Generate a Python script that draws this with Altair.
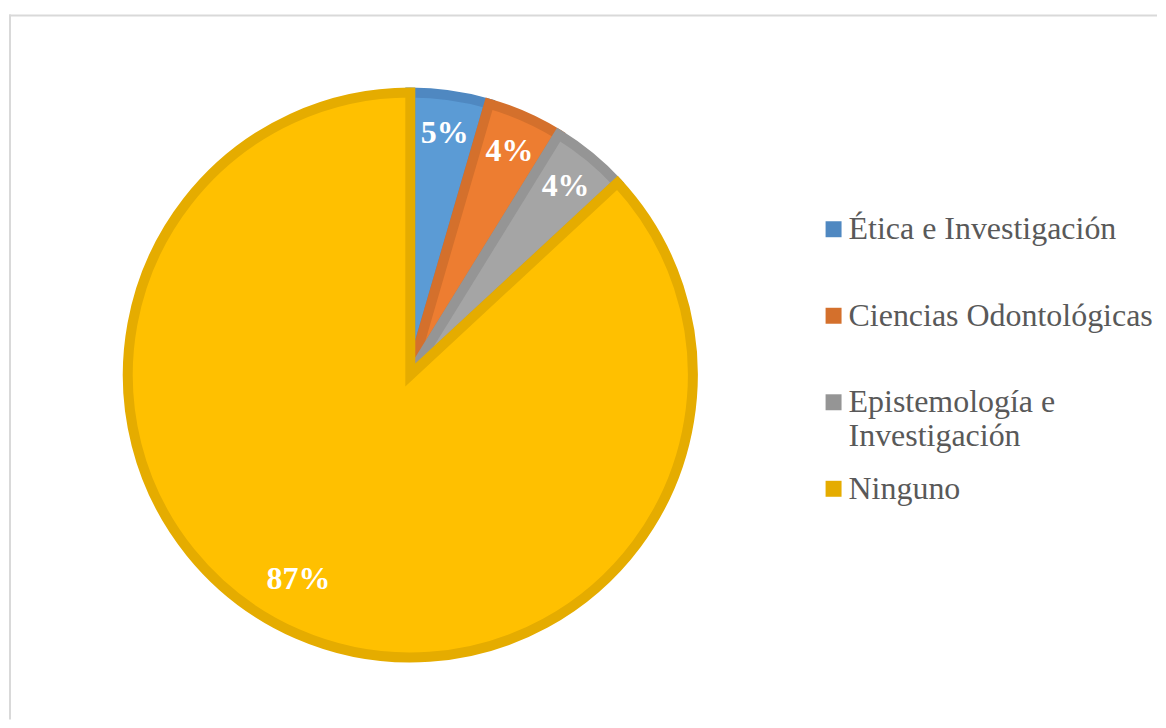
import altair as alt
import pandas as pd

categories = ["Ética e Investigación", "Ciencias Odontológicas",
              "Epistemología e Investigación", "Ninguno"]
legend_labels = ["Ética e Investigación", "Ciencias Odontológicas",
                 "Epistemología e\nInvestigación", "Ninguno"]
values = [4.5, 4.3, 4.3, 86.9]
pct_labels = ["5%", "4%", "4%", "87%"]
fill_colors = ["#5B9BD5", "#ED7D31", "#A5A5A5", "#FFC000"]
edge_colors = ["#4F88C1", "#D4702C", "#959595", "#E5AC00"]

df = pd.DataFrame({
    "categoria": categories,
    "leyenda": legend_labels,
    "valor": values,
    "etiqueta": pct_labels,
    "orden": list(range(len(categories))),
})

W, H = 1150, 712
CX, CY = 402, 367
SERIF = "Liberation Serif, Times New Roman, DejaVu Serif, serif"

base = alt.Chart(df)

pie = base.mark_arc(radius=283, strokeWidth=10, x=CX, y=CY).encode(
    theta=alt.Theta("valor:Q", stack=True),
    fill=alt.Fill("categoria:N", scale=alt.Scale(domain=categories, range=fill_colors), legend=None),
    stroke=alt.Stroke("categoria:N", scale=alt.Scale(domain=categories, range=edge_colors), legend=None),
    order=alt.Order("orden:Q"),
)

big = alt.datum.valor > 50

labels_small = base.mark_text(radius=245, x=CX, y=CY, font=SERIF, fontSize=32,
                              fontWeight="bold", color="white").encode(
    theta=alt.Theta("valor:Q", stack=True),
    text="etiqueta:N",
    opacity=alt.condition(big, alt.value(0), alt.value(1)),
    order=alt.Order("orden:Q"),
)

labels_big = base.mark_text(radius=240, x=CX, y=CY, dx=-16, dy=-16, font=SERIF, fontSize=32,
                            fontWeight="bold", color="white").encode(
    theta=alt.Theta("valor:Q", stack=True),
    text="etiqueta:N",
    opacity=alt.condition(big, alt.value(1), alt.value(0)),
    order=alt.Order("orden:Q"),
)

yscale = alt.Scale(type="point", domain=categories, range=[221, 481], padding=0)

leg_sq = base.mark_square(size=256, filled=True, opacity=1, x=826).encode(
    y=alt.Y("categoria:N", scale=yscale, axis=None),
    fill=alt.Fill("categoria:N", scale=alt.Scale(domain=categories, range=edge_colors), legend=None),
)

leg_txt = base.mark_text(x=841, align="left", baseline="alphabetic", dy=10,
                         font=SERIF, fontSize=32, color="#595959",
                         lineBreak="\n", lineHeight=34).encode(
    y=alt.Y("categoria:N", scale=yscale, axis=None),
    text="leyenda:N",
)

frame = alt.Chart(pd.DataFrame({"a": [0]}))
top_line = frame.mark_rule(color="#D9D9D9", strokeWidth=2).encode(
    x=alt.value(0), x2=alt.value(W), y=alt.value(7))
left_line = frame.mark_rule(color="#D9D9D9", strokeWidth=2).encode(
    x=alt.value(1), y=alt.value(6), y2=alt.value(H))

chart = alt.layer(top_line, left_line, pie, labels_small, labels_big, leg_sq, leg_txt).resolve_scale(
    fill="independent"
).properties(
    width=W, height=H, padding=0, background="white"
).configure_view(stroke=None)

chart.save("out.html", embed_options={"renderer": "svg", "actions": False})
